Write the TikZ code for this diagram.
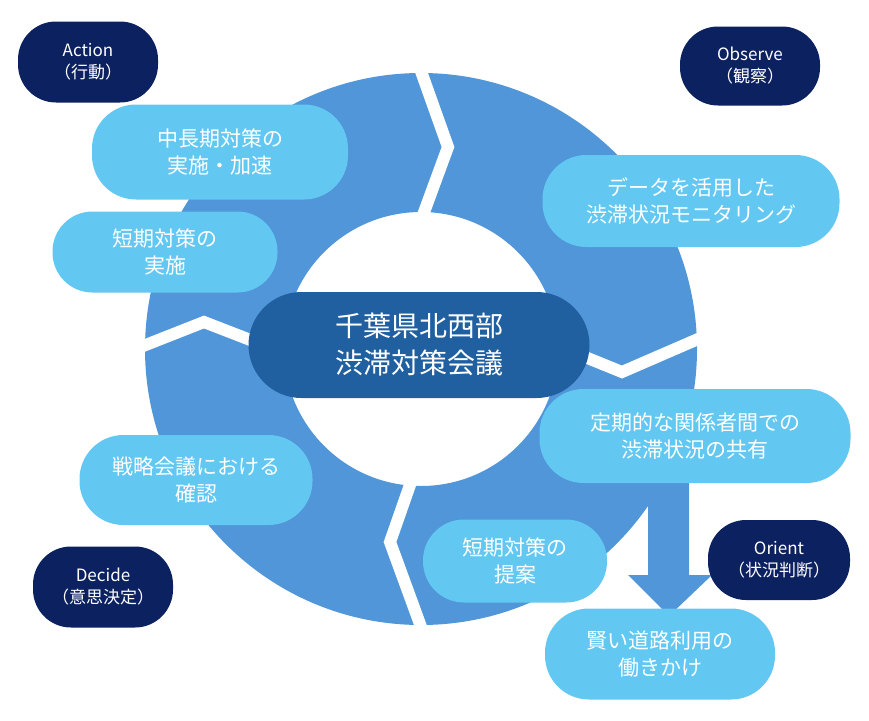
\documentclass[tikz,border=0pt]{standalone}
\usepackage{fontspec}
\setmainfont{Noto Sans CJK JP}
\begin{document}
\begin{tikzpicture}[x=1pt,y=-1pt,
  ring/.style={fill=ringc},
  gap/.style={draw=white,line width=12pt,line join=miter},
  pill/.style={fill=pillc,rounded corners=44pt,text=white,font=\fontsize{21}{27}\selectfont,align=center},
  dark/.style={fill=darkc,rounded corners=38pt,text=white,font=\fontsize{17}{22}\selectfont,align=center}]
\definecolor{ringc}{HTML}{5096D8}
\definecolor{pillc}{HTML}{62C8F2}
\definecolor{darkc}{HTML}{0C2160}
\definecolor{centc}{HTML}{2160A0}
\useasboundingbox (0,0) rectangle (869,720);
% ring
\fill[ringc,even odd rule] (421,349) circle (276) (421,349) circle (137);
% arrow
\fill[ringc] (648,480) -- (689,480) -- (689,575) -- (712,575) -- (669,616) -- (628,575) -- (648,575) -- cycle;
% gaps
\coordinate (g1a) at (417,60); \coordinate (g1b) at (448,147); \coordinate (g1c) at (423,215);
\draw[gap] (g1a) -- (g1b) -- (g1c);
\coordinate (g2a) at (705,336); \coordinate (g2b) at (622,372); \coordinate (g2c) at (585,357);
\draw[gap] (g2a) -- (g2b) -- (g2c);
\coordinate (g3a) at (424,635); \coordinate (g3b) at (390,542); \coordinate (g3c) at (411,482);
\draw[gap] (g3a) -- (g3b) -- (g3c);
\coordinate (g4a) at (138,348); \coordinate (g4b) at (204,322); \coordinate (g4c) at (253,341);
\draw[gap] (g4a) -- (g4b) -- (g4c);
% pills
\node[pill,minimum width=256pt,minimum height=95pt] (p1) at (220,152) {中長期対策の\\実施・加速};
\node[pill,minimum width=225pt,minimum height=81pt,rounded corners=40pt] (p2) at (165,252) {短期対策の\\実施};
\node[pill,minimum width=297pt,minimum height=92pt] (p3) at (691,201) {データを活用した\\渋滞状況モニタリング};
\node[fill=centc,rounded corners=53pt,text=white,font=\fontsize{28}{37}\selectfont,align=center,minimum width=341pt,minimum height=106pt] (c) at (419,345) {千葉県北西部\\渋滞対策会議};
\node[pill,minimum width=311pt,minimum height=94pt] (p4) at (695,436) {定期的な関係者間での\\渋滞状況の共有};
\node[pill,minimum width=233pt,minimum height=90pt] (p5) at (196,480) {戦略会議における\\確認};
\node[pill,minimum width=184pt,minimum height=83pt,rounded corners=41pt] (p6) at (515,561) {短期対策の\\提案};
\node[pill,minimum width=230pt,minimum height=91pt] (p7) at (660,654) {賢い道路利用の\\働きかけ};
% dark labels
\node[dark,minimum width=140pt,minimum height=81pt] (d1) at (88,62) {Action\\（行動）};
\node[dark,minimum width=140pt,minimum height=79pt] (d2) at (750,66) {Observe\\（観察）};
\node[dark,minimum width=142pt,minimum height=80pt] (d3) at (779,560) {Orient\\（状況判断）};
\node[dark,minimum width=140pt,minimum height=81pt] (d4) at (103,587) {Decide\\（意思決定）};
\end{tikzpicture}
\end{document}
